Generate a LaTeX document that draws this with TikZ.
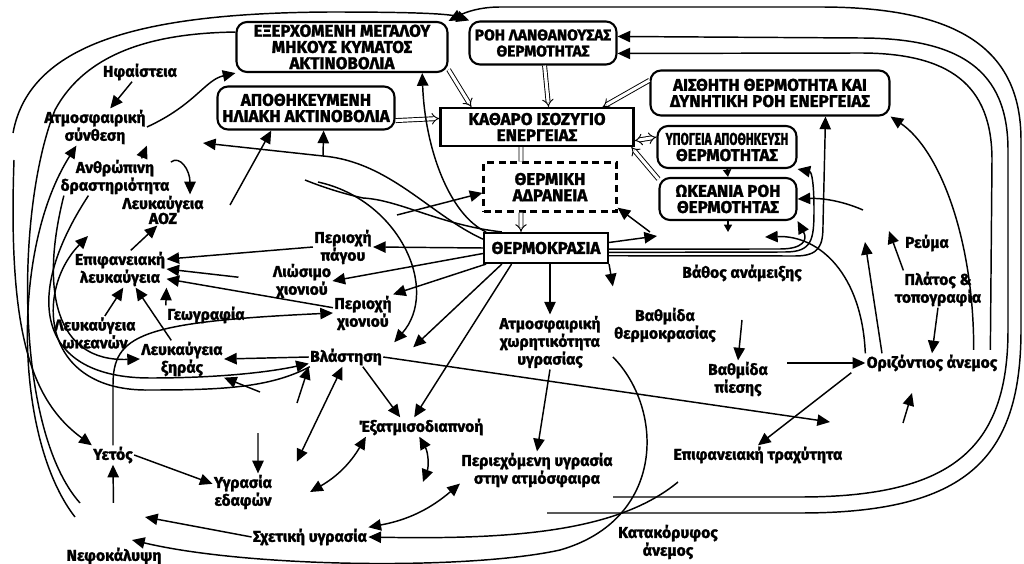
\documentclass[tikz,border=0pt]{standalone}
\usepackage{fontspec}
\setmainfont{Fira Sans}[BoldFeatures={FakeBold=1.6}]
\usepackage{graphicx}
\usetikzlibrary{arrows.meta}
\usetikzlibrary{positioning}

\begin{document}
\begin{tikzpicture}[x=0.03cm,y=-0.03cm,
  box/.style={draw,line width=1.8pt,rounded corners=9pt,align=center,inner sep=0pt,fill=white,font=\bfseries\fontsize{14.5}{13.8}\selectfont},
  sqbox/.style={draw,line width=1.8pt,align=center,inner sep=0pt,fill=white,font=\bfseries\fontsize{14.5}{13.8}\selectfont},
  lbl/.style={align=center,inner sep=1pt,font=\bfseries\fontsize{13.4}{12.8}\selectfont},
  arr/.style={line width=1.25pt,-{Triangle[length=3.8mm,width=3.4mm]}},
  sarr/.style={line width=1.25pt,-{Triangle[length=2.2mm,width=2.4mm]}},
  darr/.style={line width=1.25pt,{Triangle[length=3.8mm,width=3.4mm]}-{Triangle[length=3.8mm,width=3.4mm]}},
  ln/.style={line width=1.25pt},
  dline/.style={double,double distance=2.6pt,line width=0.8pt},
  dbl/.style={double,double distance=2.6pt,line width=0.8pt,-{Implies}},
]
\useasboundingbox (0,0) rectangle (1024,564);

\node[box,minimum width=6.33cm,minimum height=1.5cm] (outLW) at (342,47) {ΕΞΕΡΧΟΜΕΝΗ ΜΕΓΑΛΟΥ\\ΜΗΚΟΥΣ ΚΥΜΑΤΟΣ\\ΑΚΤΙΝΟΒΟΛΙΑ};
\node[box,minimum width=4.41cm,minimum height=1.29cm,font=\bfseries\fontsize{13.2}{13.8}\selectfont] (latent) at (543,43) {ΡΟΗ ΛΑΝΘΑΝΟΥΣΑΣ\\ΘΕΡΜΟΤΗΤΑΣ};
\node[box,minimum width=5.31cm,minimum height=1.29cm] (stored) at (306,108) {ΑΠΟΘΗΚΕΥΜΕΝΗ\\ΗΛΙΑΚΗ ΑΚΤΙΝΟΒΟΛΙΑ};
\node[box,minimum width=7.17cm,minimum height=1.35cm] (sensible) at (770,93) {ΑΙΣΘΗΤΗ ΘΕΡΜΟΤΗΤΑ ΚΑΙ\\ΔΥΝΗΤΙΚΗ ΡΟΗ ΕΝΕΡΓΕΙΑΣ};
\node[sqbox,minimum width=5.79cm,minimum height=1.14cm] (netbal) at (537,127) {ΚΑΘΑΡΟ ΙΣΟΖΥΓΙΟ\\ΕΝΕΡΓΕΙΑΣ};
\node[box,minimum width=4.17cm,minimum height=1.26cm] (ground) at (727,147) {\scalebox{0.7}[1]{ΥΠΟΓΕΙΑ ΑΠΟΘΗΚΕΥΣΗ}\\ΘΕΡΜΟΤΗΤΑΣ};
\node[box,minimum width=4.11cm,minimum height=1.26cm] (ocean) at (728,199) {ΩΚΕΑΝΙΑ ΡΟΗ\\ΘΕΡΜΟΤΗΤΑΣ};
\node[sqbox,dash pattern=on 6pt off 4pt,minimum width=3.99cm,minimum height=1.47cm] (inertia) at (550,187) {ΘΕΡΜΙΚΗ\\ΑΔΡΑΝΕΙΑ};
\node[sqbox,minimum width=3.72cm,minimum height=0.9cm] (temp) at (546,248) {ΘΕΡΜΟΚΡΑΣΙΑ};

\node[lbl] (hfa) at (140,72) {Ηφαίστεια};
\node[lbl] (atmc) at (95,127) {Ατμοσφαιρική\\σύνθεση};
\node[lbl] (human) at (115,177) {Ανθρώπινη\\δραστηριότητα};
\node[lbl] (aoz) at (163,210) {Λευκαύγεια\\ΑΟΖ};
\node[lbl] (surf) at (120,269) {Επιφανειακή\\λευκαύγεια};
\node[lbl] (geo) at (206,315) {Γεωγραφία};
\node[lbl] (ocalb) at (95,333) {Λευκαύγεια\\ωκεανών};
\node[lbl] (landalb) at (182,359) {Λευκαύγεια\\ξηράς};
\node[lbl] (ice) at (343,247) {Περιοχή\\πάγου};
\node[lbl] (melt) at (302,281) {Λιώσιμο\\χιονιού};
\node[lbl] (snow) at (363,313) {Περιοχή\\χιονιού};
\node[lbl] (veg) at (346,357) {Βλάστηση};
\node[lbl] (rain) at (113,455) {Υετός};
\node[lbl] (soil) at (243,492) {Υγρασία\\εδαφών};
\node[lbl] (cloud) at (114,556) {Νεφοκάλυψη};
\node[lbl] (relh) at (310,537) {Σχετική υγρασία};
\node[lbl] (evap) at (421,427) {Έξατμισοδιαπνοή};
\node[lbl] (moist) at (537,470) {Περιεχόμενη υγρασία\\στην ατμόσφαιρα};
\node[lbl] (capac) at (550,342) {Ατμοσφαιρική\\χωρητικότητα\\υγρασίας};
\node[lbl] (tgrad) at (665,325) {Βαθμίδα\\θερμοκρασίας};
\node[lbl] (mix) at (742,273) {Βάθος ανάμειξης};
\node[lbl] (pgrad) at (738,379) {Βαθμίδα\\πίεσης};
\node[lbl] (hwind) at (932,363) {Οριζόντιος άνεμος};
\node[lbl] (curr) at (927,243) {Ρεύμα};
\node[lbl] (lat) at (938,289) {Πλάτος \&\\τοπογραφία};
\node[lbl] (rough) at (758,455) {Επιφανειακή τραχύτητα};
\node[lbl] (vwind) at (668,542) {Κατακόρυφος\\άνεμος};

\coordinate (lt) at (13,133);
\coordinate (lt2) at (14,160);
\coordinate (cf1) at (80,503);
\coordinate (cf2) at (75,517);
\coordinate (sa) at (88,236);
\coordinate (vw1) at (547,513);
\coordinate (vw2) at (613,497);
\coordinate (atT) at (203,143);
\coordinate (br) at (323,156);
\coordinate (al) at (230,205);
\coordinate (cvA) at (318,182);
\coordinate (cvB) at (397,215);
\coordinate (cvC) at (305,180);
\coordinate (oc) at (657,236);
\coordinate (inr) at (650,232);
\coordinate (ocb) at (728,232);
\coordinate (cu) at (863,210);
\coordinate (mx) at (765,237);
\coordinate (up1) at (865,242);
\coordinate (cr) at (889,231);
\coordinate (tg) at (742,320);
\coordinate (pg) at (787,363);
\coordinate (vg) at (830,422);
\coordinate (w1) at (903,423);
\coordinate (w2) at (912,393);
\coordinate (ev) at (423,482);
\coordinate (vl) at (297,403);
\coordinate (la) at (260,392);
\coordinate (sm) at (258,433);
\coordinate (cl) at (145,517);
\coordinate (cl2) at (132,540);
\coordinate (tl) at (678,482);

\draw[arr] (lt) .. controls (30,40) and (150,13) .. (330,12) .. controls (420,12) and (450,14) .. (latent.163);
\draw[arr] (vw1) -- (800,513) .. controls (965,513) and (1021,460) .. (1021,330) -- (1021,140) .. controls (1021,50) and (960,7) .. (820,7) -- (500,7) .. controls (475,7) and (460,15) .. (outLW.north east);
\draw[arr] (vw2) -- (800,497) .. controls (950,497) and (1008,450) .. (1008,330) -- (1008,150) .. controls (1008,70) and (960,38) .. (860,38) -- (latent.5);
\draw[arr] ([xshift=-0.25cm,yshift=0.1cm]hwind.north east) -- (992,160) .. controls (992,85) and (950,53) .. (860,53) -- (latent.-8);
\draw[arr] ([xshift=-0.75cm,yshift=0.1cm]hwind.north east) .. controls (974,240) and (940,150) .. (sensible.south east);

\draw[dbl] (outLW.-12) -- (netbal.163);
\draw[dbl] (stored.-8) -- (netbal.175);
\draw[dbl] (latent.-86) -- (netbal.60);
\draw[dbl] (sensible.174) -- (netbal.17);
\draw[dbl,{Implies}-{Implies}] (netbal.-8) -- (ground.172);
\draw[dbl] (ocean.164) -- (netbal.-12);
\draw[dline] ([xshift=-0.48cm]netbal.south) -- ([xshift=-0.87cm]inertia.north);
\draw[dbl] ([xshift=-0.87cm]inertia.south) -- ([xshift=-0.75cm]temp.north);

\draw[arr] (temp.165) .. controls (450,215) and (425,150) .. (outLW.-18);
\draw[arr] (temp.172) .. controls (430,215) and (390,162) .. (br) -- (atT);
\draw[arr] (br) -- (stored.-52);
\draw[arr] (al) -- (stored.-147);
\draw[ln] (temp.160) .. controls (440,225) and (400,200) .. (363,198) .. controls (340,193) and (320,186) .. (cvC);
\draw[arr] (cvA) .. controls (400,200) and (440,290) .. ([xshift=0.33cm,yshift=0.15cm]veg.north east);
\draw[arr] (cvB) -- (inertia.185);
\draw[arr] (inr) -- (inertia.-17);
\draw[arr] (temp.5) -- (oc);

\draw[arr] (temp.-1) -- (780,249) .. controls (803,249) and (808,240) .. (ocean.south east);
\draw[arr] (temp.-4) -- (785,252) .. controls (812,252) and (814,240) .. (814,210) .. controls (814,185) and (812,172) .. (ground.south east);
\draw[arr] (temp.-7) -- (795,256) .. controls (820,256) and (823,245) .. (823,225) -- (sensible.-23);
\draw[sarr] (ground.south) -- (ocean.north);
\draw[sarr] (ocean.south) -- (ocb);
\draw[arr] (cu) .. controls (840,200) and (820,198) .. (ocean.east);
\draw[arr] (hwind.north west) .. controls (862,275) and (820,235) .. (mx);
\draw[arr] ([xshift=0.5cm]hwind.north west) -- (up1);
\draw[arr] ([xshift=0.3cm]lat.north west) -- (cr);
\draw[arr] (lat.south) -- (hwind.north);
\draw[arr] (tg) -- (pgrad.north);
\draw[arr] (pg) -- (hwind.west);
\draw[arr] ([xshift=-0.42cm]hwind.south west) -- (rough.north);
\draw[arr] (veg.east) -- (vg);
\draw[arr] (w1) -- (w2);

\draw[arr] (temp.west) -- (ice.east);
\draw[arr] (temp.185) -- (melt.east);
\draw[arr] (temp.195) -- (snow.north east);
\draw[arr] (temp.200) -- ([xshift=0.9cm]veg.north east);
\draw[arr] (temp.205) -- (evap.125);
\draw[arr] ([xshift=0.12cm]temp.south) -- (capac.north);
\draw[arr] (temp.south east) -- ([yshift=0.6cm]tgrad.north west);
\draw[arr] (capac.south) -- (moist.north);
\draw[arr] (veg.-30) -- (evap.155);
\draw[darr] (evap.-100) to[bend left=25] (ev);
\draw[darr] (moist.190) to[bend left=15] (relh.north east);
\draw[darr] (evap.-170) to[bend left=15] ([xshift=1.1cm]soil.east);
\draw[darr] (veg.-110) -- ([xshift=0.7cm,yshift=0.35cm]soil.north east);
\draw[arr] (vl) -- (veg.south west);
\draw[arr] (veg.west) -- (landalb.east);
\draw[arr] (la) -- (landalb.south east);
\draw[arr] (sm) -- ([xshift=0.45cm]soil.north);
\draw[arr] (rain.east) -- (soil.165);
\draw[arr,shorten <=1.3cm] (cloud.north) -- (rain.south);
\draw[arr] (relh.west) -- (cl);
\draw[arr] ([yshift=-0.4cm]tgrad.south west) .. controls (665,410) and (665,520) .. (560,550) .. controls (470,570) and (250,568) .. (cl2);
\draw[arr] (tl) .. controls (620,530) and (520,540) .. (relh.east);
\draw[arr] (rain.north) -- (113,385) .. controls (113,335) and (140,322) .. (snow.west);

\draw[arr] (geo.north west) -- (surf.south east);
\draw[arr] (ocalb.60) -- (surf.-80);
\draw[arr] (landalb.120) -- (surf.-50);
\draw[arr] (surf.60) -- (aoz.-110);
\draw[arr] (ice.west) -- (surf.12);
\draw[arr,shorten <=1cm] (melt.west) -- (surf.east);
\draw[arr] (snow.170) -- (surf.-12);
\draw[arr] (hfa) -- (atmc);
\draw[arr] (human.35) -- (atmc.south east);
\draw[arr] (human.15) .. controls (180,155) and (190,170) .. (aoz.30);
\draw[arr] (atmc.east) .. controls (195,105) and (205,80) .. (outLW.south west);

\draw[ln] (cf1) .. controls (15,430) and (15,210) .. (55,110) .. controls (90,45) and (170,33) .. (outLW.172);
\draw[arr] (cf2) .. controls (15,440) and (10,250) .. (atmc.-135);
\draw[arr] (lt2) .. controls (8,330) and (30,400) .. (rain.north west);
\draw[arr] (human.-160) .. controls (40,290) and (55,362) .. (landalb.west);
\draw[arr] (human.-145) .. controls (20,300) and (40,378) .. (150,378) .. controls (220,378) and (270,372) .. (veg.190);
\draw[arr] (veg.195) .. controls (270,388) and (220,390) .. (150,390) .. controls (40,392) and (35,290) .. (sa);
\end{tikzpicture}
\end{document}
